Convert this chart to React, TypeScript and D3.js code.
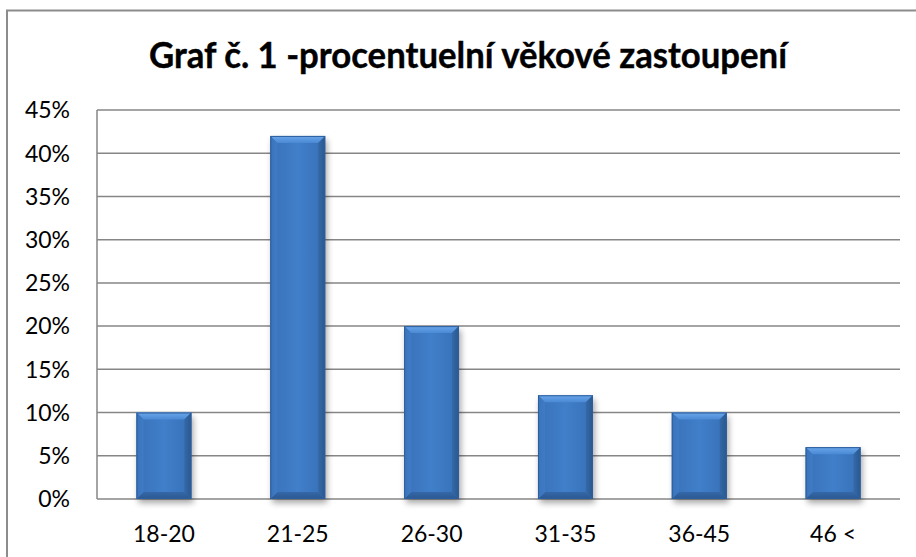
import React from "react";
import * as d3 from "d3";

const categories = ["18-20", "21-25", "26-30", "31-35", "36-45", "46 <"];
const values = [10, 42, 20, 12, 10, 6];
const yTicks = [0, 5, 10, 15, 20, 25, 30, 35, 40, 45];
const title = "Graf č. 1 -procentuelní věkové zastoupení";

const W = 916;
const H = 557;
const plotLeft = 97;
const plotRight = 900;
const plotTop = 110;
const plotBottom = 499;
const FONT = "Lato, 'Open Sans', 'Noto Sans', sans-serif";

export default function App() {
  const x = d3
    .scaleBand<string>()
    .domain(categories)
    .range([plotLeft, plotRight])
    .paddingInner(0.59)
    .paddingOuter(0.295);
  const y = d3.scaleLinear().domain([0, 45]).range([plotBottom, plotTop]);
  const bw = x.bandwidth();
  const bev = 7;

  return (
    <svg
      width={W}
      height={H}
      style={{ position: "absolute", left: 0, top: 0, background: "#fff" }}
    >
      <defs>
        <linearGradient id="face" x1="0" x2="1" y1="0" y2="0">
          <stop offset="0" stopColor="#3871b8" />
          <stop offset="0.5" stopColor="#417fca" />
          <stop offset="1" stopColor="#3670b6" />
        </linearGradient>
        <linearGradient id="topBev" x1="0" x2="0" y1="0" y2="1">
          <stop offset="0" stopColor="#6aa6ea" />
          <stop offset="1" stopColor="#4a89d4" />
        </linearGradient>
        <linearGradient id="botBev" x1="0" x2="0" y1="0" y2="1">
          <stop offset="0" stopColor="#3568a8" />
          <stop offset="1" stopColor="#2a5790" />
        </linearGradient>
        <linearGradient id="leftBev" x1="0" x2="1" y1="0" y2="0">
          <stop offset="0" stopColor="#3a72b8" />
          <stop offset="1" stopColor="#3f7cc6" />
        </linearGradient>
        <linearGradient id="rightBev" x1="0" x2="1" y1="0" y2="0">
          <stop offset="0" stopColor="#3469a8" />
          <stop offset="1" stopColor="#2a588f" />
        </linearGradient>
        <filter id="shadow" x="-30%" y="-10%" width="160%" height="130%">
          <feGaussianBlur stdDeviation="3" />
        </filter>
      </defs>

      {/* outer border */}
      <path
        d={`M7,${H + 5} L7,10.5 L${W + 5},10.5`}
        fill="none"
        stroke="#8c8c8c"
        strokeWidth={2}
      />

      {/* title */}
      <text
        x={468}
        y={68}
        textAnchor="middle"
        fontFamily={FONT}
        fontWeight={700}
        fontSize={37}
        textLength={638}
        lengthAdjust="spacingAndGlyphs"
        fill="#000"
        stroke="#000"
        strokeWidth={0.4}
      >
        {title}
      </text>

      {/* gridlines */}
      {yTicks.map((t) => (
        <line
          key={t}
          x1={plotLeft}
          x2={plotRight}
          y1={y(t)}
          y2={y(t)}
          stroke="#868686"
          strokeWidth={1.5}
        />
      ))}
      <line
        x1={plotLeft}
        x2={plotLeft}
        y1={plotTop}
        y2={plotBottom}
        stroke="#868686"
        strokeWidth={1.5}
      />

      {/* y labels */}
      {yTicks.map((t) => (
        <text
          key={t}
          x={70}
          y={y(t)}
          dy="0.36em"
          textAnchor="end"
          fontFamily={FONT}
          fontSize={23}
          fill="#000"
        >
          {t + "%"}
        </text>
      ))}

      {/* bars */}
      {categories.map((c, i) => {
        const x0 = x(c) as number;
        const x1 = x0 + bw;
        const yt = y(values[i]);
        const yb = y(0);
        return (
          <g key={c}>
            <rect
              x={x0 + 2}
              y={yt + 4}
              width={bw}
              height={yb - yt}
              fill="#000"
              opacity={0.35}
              filter="url(#shadow)"
            />
            <rect x={x0} y={yt} width={bw} height={yb - yt} fill="url(#face)" />
            <polygon
              points={`${x0},${yt} ${x1},${yt} ${x1 - bev},${yt + bev} ${x0 + bev},${yt + bev}`}
              fill="url(#topBev)"
            />
            <polygon
              points={`${x0},${yb} ${x1},${yb} ${x1 - bev},${yb - bev} ${x0 + bev},${yb - bev}`}
              fill="url(#botBev)"
            />
            <polygon
              points={`${x0},${yt} ${x0 + bev},${yt + bev} ${x0 + bev},${yb - bev} ${x0},${yb}`}
              fill="url(#leftBev)"
            />
            <polygon
              points={`${x1},${yt} ${x1 - bev},${yt + bev} ${x1 - bev},${yb - bev} ${x1},${yb}`}
              fill="url(#rightBev)"
            />
            <rect
              x={x0 + 0.5}
              y={yt + 0.5}
              width={bw - 1}
              height={yb - yt - 1}
              fill="none"
              stroke="#2d5f9e"
              strokeWidth={1}
            />
          </g>
        );
      })}

      {/* x labels */}
      {categories.map((c) => (
        <text
          key={c}
          x={(x(c) as number) + bw / 2}
          y={542}
          textAnchor="middle"
          fontFamily={FONT}
          fontSize={23}
          fill="#000"
        >
          {c}
        </text>
      ))}
    </svg>
  );
}
